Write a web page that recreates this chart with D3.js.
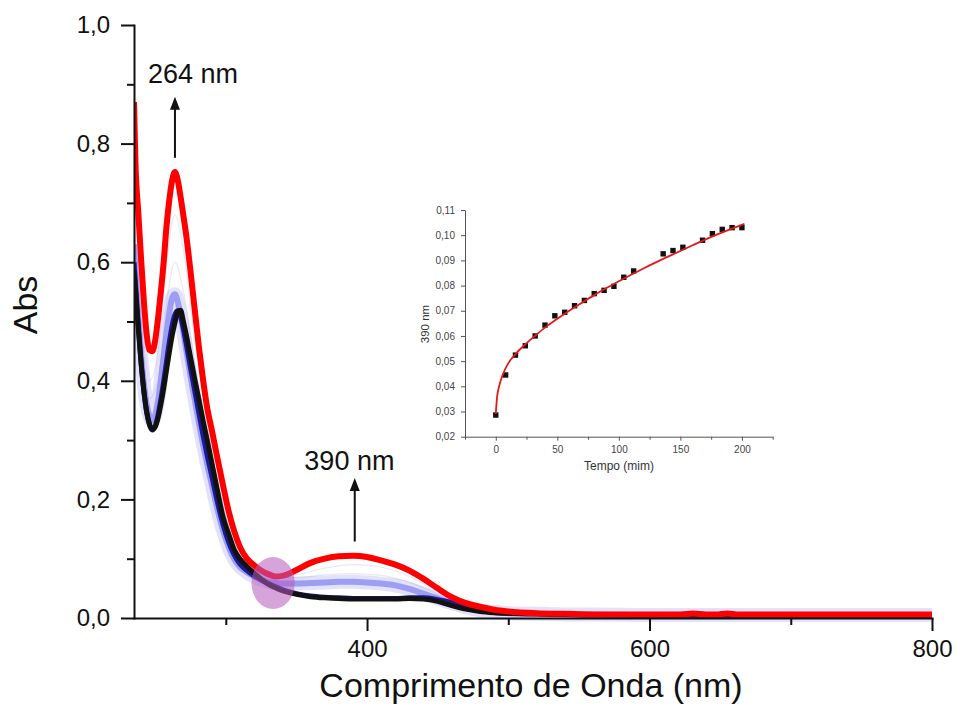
<!DOCTYPE html>
<html>
<head>
  <meta charset="utf-8">
  <title>Espectro UV-Vis</title>
  <script src="https://d3js.org/d3.v7.min.js"></script>
  <style>
    body { margin: 0; background: #fff; }
    svg text { font-family: "Liberation Sans", Arial, sans-serif; }
    .eixo path, .eixo line { stroke: #111; stroke-width: 2; }
    .eixo text { fill: #111; font-size: 24px; }
    .eixoInset path, .eixoInset line { stroke: #555; stroke-width: 1; }
    .eixoInset text { fill: #444; font-size: 10px; }
  </style>
</head>
<body>
<svg id="grafico" width="957" height="709"></svg>
<script>
  "use strict"

  // comprimentos de onda (nm) dos espectros
  var comprimento = [235, 236, 238, 240, 242, 244, 246, 248, 250, 252,
    254, 256, 258, 260, 262, 264, 266, 268, 270, 272,
    275, 278, 281, 284, 287, 290, 294, 298, 302, 306,
    310, 315, 320, 325, 330, 335, 340, 350, 360, 370,
    380, 390, 400, 410, 420, 430, 440, 450, 460, 470,
    480, 490, 500, 520, 540, 560, 600, 622, 631, 640,
    647, 655, 663, 700, 750, 800];

  // espectro inicial (preto)
  var absInicial = [0.585, 0.555, 0.49, 0.43, 0.383, 0.348, 0.327, 0.318, 0.322, 0.337,
    0.360, 0.387, 0.418, 0.448, 0.476, 0.498, 0.517, 0.519, 0.500, 0.478,
    0.440, 0.403, 0.368, 0.332, 0.298, 0.263, 0.216, 0.171, 0.142, 0.115,
    0.100, 0.087, 0.076, 0.066, 0.057, 0.051, 0.046, 0.040, 0.036, 0.034,
    0.033, 0.032, 0.032, 0.032, 0.032, 0.033, 0.032, 0.028, 0.021, 0.015,
    0.011, 0.009, 0.008, 0.007, 0.006, 0.006, 0.005, 0.005, 0.005, 0.005,
    0.005, 0.005, 0.005, 0.005, 0.005, 0.005];

  // segundo espectro (azul escuro)
  var absAzulEscuro = [0.600, 0.565, 0.495, 0.432, 0.382, 0.346, 0.325, 0.317, 0.324, 0.342,
    0.368, 0.398, 0.432, 0.465, 0.493, 0.512, 0.518, 0.508, 0.487, 0.462,
    0.422, 0.383, 0.345, 0.307, 0.272, 0.240, 0.196, 0.158, 0.128, 0.106,
    0.091, 0.080, 0.071, 0.064, 0.058, 0.053, 0.048, 0.041, 0.037, 0.035,
    0.034, 0.033, 0.033, 0.033, 0.033, 0.034, 0.034, 0.031, 0.026, 0.019,
    0.013, 0.010, 0.008, 0.007, 0.006, 0.005, 0.005, 0.005, 0.005, 0.005,
    0.005, 0.005, 0.005, 0.005, 0.005, 0.005];

  // espectros intermediarios (azul claro)
  var absAzul = [0.630, 0.590, 0.510, 0.445, 0.395, 0.360, 0.340, 0.333, 0.342, 0.366,
    0.400, 0.440, 0.480, 0.515, 0.540, 0.546, 0.533, 0.510, 0.482, 0.452,
    0.408, 0.368, 0.328, 0.291, 0.257, 0.226, 0.184, 0.148, 0.120, 0.099,
    0.086, 0.077, 0.070, 0.065, 0.061, 0.059, 0.058, 0.058, 0.059, 0.060,
    0.061, 0.061, 0.060, 0.058, 0.055, 0.049, 0.041, 0.033, 0.025, 0.018,
    0.013, 0.010, 0.008, 0.007, 0.006, 0.006, 0.005, 0.005, 0.005, 0.005,
    0.005, 0.005, 0.005, 0.005, 0.005, 0.005];

  // espectro final (vermelho)
  var absFinal = [0.870, 0.770, 0.685, 0.606, 0.534, 0.478, 0.452, 0.450, 0.468, 0.505,
    0.550, 0.600, 0.660, 0.705, 0.738, 0.752, 0.738, 0.710, 0.678, 0.645,
    0.585, 0.520, 0.456, 0.400, 0.352, 0.318, 0.270, 0.224, 0.180, 0.146,
    0.120, 0.100, 0.089, 0.080, 0.074, 0.070, 0.071, 0.081, 0.093, 0.100,
    0.104, 0.105, 0.103, 0.097, 0.090, 0.080, 0.066, 0.050, 0.035, 0.025,
    0.019, 0.014, 0.011, 0.008, 0.007, 0.006, 0.006, 0.006, 0.0075, 0.006,
    0.006, 0.0078, 0.006, 0.006, 0.006, 0.006];

  // curvas intermediarias quase apagadas (cinza)
  var comprimentoInter = [235, 240, 246, 252, 258, 264, 270, 278, 286, 295, 305, 315,
    330, 350, 370, 390, 410, 430, 450, 470, 490, 520, 800];
  var absInter1 = [0.68, 0.48, 0.37, 0.40, 0.53, 0.60, 0.55, 0.43, 0.31, 0.20, 0.125, 0.09,
    0.068, 0.068, 0.073, 0.075, 0.072, 0.060, 0.040, 0.020, 0.011, 0.007, 0.006];
  var absInter2 = [0.76, 0.53, 0.40, 0.45, 0.60, 0.68, 0.62, 0.47, 0.34, 0.22, 0.135, 0.095,
    0.070, 0.073, 0.084, 0.090, 0.086, 0.070, 0.045, 0.022, 0.012, 0.007, 0.006];

  // grafico menor: absorbancia em 390 nm x tempo
  var tempo = [0, 8, 16, 24, 32, 40, 48, 56, 64, 72, 80, 88, 96, 104, 112,
    136, 144, 152, 168, 176, 184, 192, 200];
  var abs390 = [0.0286, 0.0445, 0.0524, 0.0561, 0.0600, 0.0643, 0.0680, 0.0694, 0.0720,
    0.0741, 0.0768, 0.0781, 0.0797, 0.0833, 0.0858, 0.0926, 0.0939, 0.0952,
    0.0980, 0.1006, 0.1023, 0.1030, 0.1030];
  var tempoAjuste = [0, 1, 3, 6, 10, 16, 24, 32, 40, 50, 60, 70, 80, 90, 100, 110, 120,
    140, 160, 180, 202];
  var abs390Ajuste = [0.029, 0.0355, 0.0405, 0.0450, 0.0490, 0.0528, 0.0567, 0.0601, 0.0633,
    0.0668, 0.0701, 0.0732, 0.0762, 0.0790, 0.0817, 0.0843, 0.0868, 0.0915,
    0.0960, 0.1003, 0.1045];

  // ticks
  var ticksY = [0, 0.2, 0.4, 0.6, 0.8, 1.0];
  var ticksYMenor = [0.1, 0.3, 0.5, 0.7, 0.9];
  var ticksX = [400, 600, 800];
  var ticksXMenor = [300, 500, 700];
  var ticksInsetX = [0, 50, 100, 150, 200];
  var ticksInsetXMenor = [-25, 25, 75, 125, 175, 225];
  var ticksInsetY = [0.02, 0.03, 0.04, 0.05, 0.06, 0.07, 0.08, 0.09, 0.10, 0.11];

  // setas e ponto isosbestico (em unidades dos dados)
  var setas = [
    {rotulo: '264 nm', nm: 264, de: 0.776, ate: 0.879, textoNm: 276.8, textoAbs: 0.902},
    {rotulo: '390 nm', nm: 391.3, de: 0.129, ate: 0.236, textoNm: 387.5, textoAbs: 0.249}
  ];
  var isosbestico = {nm: 333.5, abs: 0.059, raioNm: 15.3, raioAbs: 0.044};

  var virgula = (f) => (v) => d3.format(f)(v).replace('.', ',');

  var svg = d3.select('#grafico');

  var x = d3.scaleLinear().domain([235, 800]).range([134, 932]);
  var y = d3.scaleLinear().domain([0, 1]).range([618, 25]);

  svg.append('clipPath').attr('id', 'area')
    .append('rect')
    .attr('x', x(235)).attr('y', y(1))
    .attr('width', x(800) - x(235)).attr('height', y(0) - y(1) + 4);

  var linha = d3.line()
    .x((d) => x(d[0]))
    .y((d) => y(d[1]))
    .curve(d3.curveMonotoneX);

  var curvas = svg.append('g').attr('clip-path', 'url(#area)');

  [absInter1, absInter2].forEach(function(serie) {
    curvas.append('path')
      .attr('d', linha(d3.zip(comprimentoInter, serie)))
      .attr('fill', 'none')
      .attr('stroke', '#c8c8d8')
      .attr('stroke-opacity', 0.4)
      .attr('stroke-width', 1.2);
  });

  // faixa azul clara (varias varreduras)
  curvas.append('path')
    .attr('d', linha(d3.zip(comprimento, absAzul)))
    .attr('fill', 'none')
    .attr('stroke', '#8a8af5')
    .attr('stroke-opacity', 0.25)
    .attr('stroke-width', 14);
  curvas.append('path')
    .attr('d', linha(d3.zip(comprimento, absAzul)))
    .attr('fill', 'none')
    .attr('stroke', '#6f6fee')
    .attr('stroke-opacity', 0.6)
    .attr('stroke-width', 6);

  curvas.append('path')
    .attr('d', linha(d3.zip(comprimento, absAzulEscuro)))
    .attr('fill', 'none')
    .attr('stroke', '#1a1a9a')
    .attr('stroke-width', 5);

  curvas.append('path')
    .attr('d', linha(d3.zip(comprimento, absInicial)))
    .attr('fill', 'none')
    .attr('stroke', '#111')
    .attr('stroke-width', 5);

  curvas.append('path')
    .attr('d', linha(d3.zip(comprimento, absFinal)))
    .attr('fill', 'none')
    .attr('stroke', '#ff0000')
    .attr('stroke-width', 6);

  // ponto isosbestico
  svg.append('ellipse')
    .attr('cx', x(isosbestico.nm))
    .attr('cy', y(isosbestico.abs))
    .attr('rx', x(isosbestico.nm + isosbestico.raioNm) - x(isosbestico.nm))
    .attr('ry', y(0) - y(isosbestico.raioAbs))
    .attr('fill', '#b45abe')
    .attr('fill-opacity', 0.55);

  // eixos
  svg.append('g').attr('class', 'eixo')
    .attr('transform', 'translate(' + x(235) + ',0)')
    .call(d3.axisLeft(y).tickValues(ticksY).tickSize(13).tickSizeOuter(0)
      .tickPadding(11).tickFormat(virgula('.1f')));
  svg.append('g').attr('class', 'eixo')
    .attr('transform', 'translate(' + x(235) + ',0)')
    .call(d3.axisLeft(y).tickValues(ticksYMenor).tickSize(7).tickSizeOuter(0).tickFormat(''))
    .select('.domain').remove();

  svg.append('g').attr('class', 'eixo')
    .attr('transform', 'translate(0,' + y(0) + ')')
    .call(d3.axisBottom(x).tickValues(ticksX).tickSize(13).tickSizeOuter(0)
      .tickPadding(9).tickFormat(d3.format('d')));
  svg.append('g').attr('class', 'eixo')
    .attr('transform', 'translate(0,' + y(0) + ')')
    .call(d3.axisBottom(x).tickValues(ticksXMenor).tickSize(7).tickSizeOuter(0).tickFormat(''))
    .select('.domain').remove();

  svg.selectAll('.eixo .domain').attr('stroke-linecap', 'square');

  svg.append('text')
    .attr('transform', 'translate(37,305) rotate(-90)')
    .attr('text-anchor', 'middle')
    .attr('font-size', 34)
    .attr('fill', '#111')
    .text('Abs');

  svg.append('text')
    .attr('x', 531).attr('y', 697)
    .attr('text-anchor', 'middle')
    .attr('font-size', 34)
    .attr('fill', '#111')
    .text('Comprimento de Onda (nm)');

  // setas
  setas.forEach(function(s) {
    var sx = x(s.nm), y0 = y(s.de), y1 = y(s.ate);
    svg.append('line')
      .attr('x1', sx).attr('x2', sx)
      .attr('y1', y0).attr('y2', y1 + 8)
      .attr('stroke', '#111').attr('stroke-width', 2);
    svg.append('path')
      .attr('d', 'M' + sx + ',' + y1 + 'L' + (sx - 5) + ',' + (y1 + 13) + 'L' + (sx + 5) + ',' + (y1 + 13) + 'Z')
      .attr('fill', '#111');
    svg.append('text')
      .attr('x', x(s.textoNm)).attr('y', y(s.textoAbs))
      .attr('text-anchor', 'middle')
      .attr('font-size', 27)
      .attr('fill', '#111')
      .text(s.rotulo);
  });

  // grafico menor
  var xi = d3.scaleLinear().domain([-25, 225]).range([465, 772.7]);
  var yi = d3.scaleLinear().domain([0.02, 0.11]).range([436.7, 210]);

  svg.append('g').attr('class', 'eixoInset')
    .attr('transform', 'translate(' + xi(-25) + ',0)')
    .call(d3.axisLeft(yi).tickValues(ticksInsetY).tickSize(4).tickSizeOuter(0)
      .tickPadding(6).tickFormat(virgula('.2f')));
  svg.append('g').attr('class', 'eixoInset')
    .attr('transform', 'translate(0,' + yi(0.02) + ')')
    .call(d3.axisBottom(xi).tickValues(ticksInsetX).tickSize(4).tickSizeOuter(0)
      .tickPadding(5).tickFormat(d3.format('d')));
  svg.append('g').attr('class', 'eixoInset')
    .attr('transform', 'translate(0,' + yi(0.02) + ')')
    .call(d3.axisBottom(xi).tickValues(ticksInsetXMenor).tickSize(3).tickSizeOuter(0).tickFormat(''))
    .select('.domain').remove();

  var linhaInset = d3.line()
    .x((d) => xi(d[0]))
    .y((d) => yi(d[1]))
    .curve(d3.curveMonotoneX);

  svg.append('g').selectAll('rect')
    .data(d3.zip(tempo, abs390))
    .enter()
    .append('rect')
    .attr('x', (d) => xi(d[0]) - 2.7)
    .attr('y', (d) => yi(d[1]) - 2.7)
    .attr('width', 5.4)
    .attr('height', 5.4)
    .attr('fill', '#111');

  svg.append('path')
    .attr('d', linhaInset(d3.zip(tempoAjuste, abs390Ajuste)))
    .attr('fill', 'none')
    .attr('stroke', '#e31a1c')
    .attr('stroke-width', 1.8);

  svg.append('text')
    .attr('x', 619).attr('y', 470)
    .attr('text-anchor', 'middle')
    .attr('font-size', 12)
    .attr('fill', '#333')
    .text('Tempo (mim)');

  svg.append('text')
    .attr('transform', 'translate(429,324) rotate(-90)')
    .attr('text-anchor', 'middle')
    .attr('font-size', 11.5)
    .attr('fill', '#333')
    .text('390 nm');
</script>
</body>
</html>
